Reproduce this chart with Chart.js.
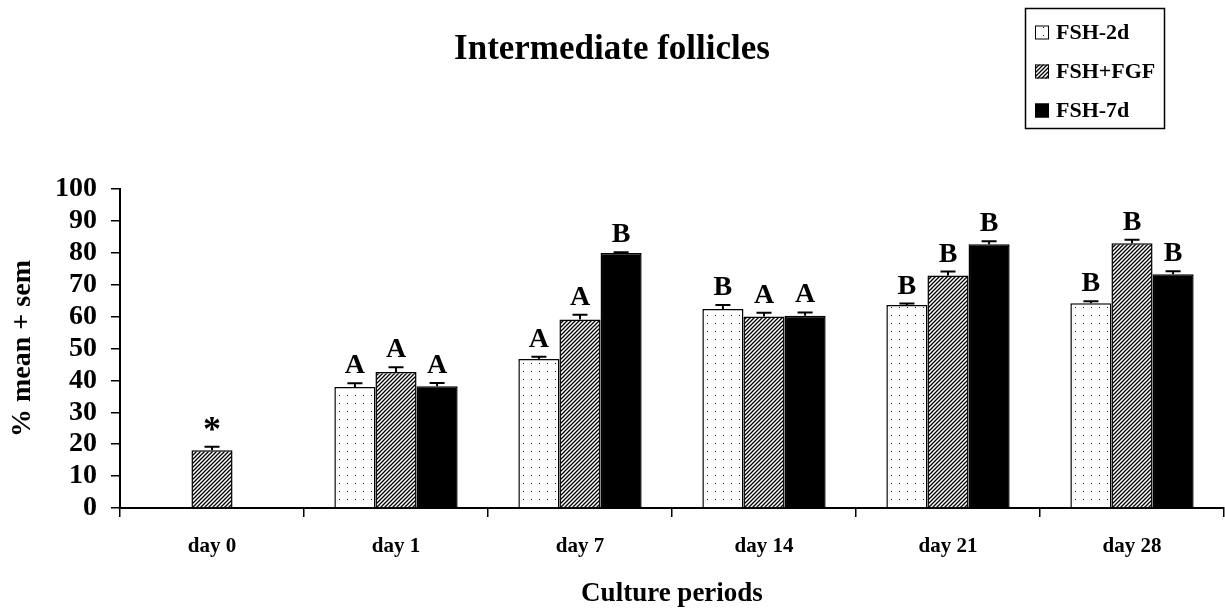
<!DOCTYPE html>
<html>
<head>
<meta charset="utf-8">
<script src="https://cdn.jsdelivr.net/npm/chart.js"></script>
<style>
  html, body { margin: 0; padding: 0; background: #fff; }
</style>
</head>
<body>
<canvas id="chart" width="1225" height="613"></canvas>
<script>
// values (% mean + sem)
const categories = ['day 0', 'day 1', 'day 7', 'day 14', 'day 21', 'day 28']
const seriesNames = ['FSH-2d', 'FSH+FGF', 'FSH-7d']
const fsh2d = [null, 37.9, 46.7, 62.4, 63.6, 64.2]
const fshFgf = [18.1, 42.6, 59.1, 60.0, 72.9, 83.0]
const fsh7d = [null, 38.2, 79.9, 60.3, 82.7, 73.3]
const fsh2dSem = [null, 1.2, 0.7, 1.2, 0.5, 0.6]
const fshFgfSem = [1.1, 1.5, 1.5, 1.2, 1.2, 1.1]
const fsh7dSem = [null, 1.0, 0.3, 1.0, 0.9, 0.9]
const fsh2dLetters = ['', 'A', 'A', 'B', 'B', 'B']
const fshFgfLetters = ['*', 'A', 'A', 'A', 'B', 'B']
const fsh7dLetters = ['', 'A', 'B', 'A', 'B', 'B']
const yTicks = [0, 10, 20, 30, 40, 50, 60, 70, 80, 90, 100]

const FONT = "'Liberation Serif', 'Times New Roman', serif"

function dotPattern() {
    const c = document.createElement('canvas')
    c.width = 8; c.height = 8
    const g = c.getContext('2d')
    g.fillStyle = '#fff'
    g.fillRect(0, 0, 8, 8)
    g.fillStyle = '#222'
    g.fillRect(3, 3, 1, 1)
    return g.createPattern(c, 'repeat')
}

function hatchPattern() {
    const c = document.createElement('canvas')
    c.width = 4; c.height = 4
    const g = c.getContext('2d')
    g.fillStyle = '#fff'
    g.fillRect(0, 0, 4, 4)
    g.strokeStyle = '#000'
    g.lineWidth = 1.3
    g.beginPath()
    g.moveTo(-1, 5); g.lineTo(5, -1)
    g.moveTo(-1, 1); g.lineTo(1, -1)
    g.moveTo(3, 5); g.lineTo(5, 3)
    g.stroke()
    return g.createPattern(c, 'repeat')
}

const fills = [dotPattern(), hatchPattern(), '#000']

// sem error bars + significance letters
const errorBars = {
    id: 'errorBars',
    afterDatasetsDraw(chart) {
        const ctx = chart.ctx
        const y = chart.scales.y
        ctx.save()
        chart.data.datasets.forEach((ds, di) => {
            const meta = chart.getDatasetMeta(di)
            meta.data.forEach((bar, i) => {
                const v = ds.data[i]
                if (v == null) return
                const top = y.getPixelForValue(v + ds.sem[i])
                ctx.strokeStyle = '#000'
                ctx.lineWidth = 2
                ctx.beginPath()
                ctx.moveTo(bar.x, bar.y)
                ctx.lineTo(bar.x, top)
                ctx.moveTo(bar.x - 7.5, top)
                ctx.lineTo(bar.x + 7.5, top)
                ctx.stroke()
                const letter = ds.letters[i]
                if (letter) {
                    ctx.fillStyle = '#000'
                    ctx.textAlign = 'center'
                    ctx.textBaseline = 'alphabetic'
                    if (letter === '*') {
                        ctx.font = 'bold 36px ' + FONT
                        ctx.fillText(letter, bar.x, top - 6)
                    } else {
                        ctx.font = 'bold 28px ' + FONT
                        ctx.fillText(letter, bar.x, top - 10)
                    }
                }
            })
        })
        ctx.restore()
    }
}

// boxed legend at the top right
const boxLegend = {
    id: 'boxLegend',
    afterDraw(chart) {
        const ctx = chart.ctx
        ctx.save()
        ctx.strokeStyle = '#000'
        ctx.lineWidth = 1.5
        ctx.strokeRect(1025.5, 8.5, 139, 120)
        chart.data.datasets.forEach((ds, i) => {
            const cy = 32 + i * 39
            ctx.fillStyle = ds.backgroundColor
            ctx.fillRect(1035, cy - 6.5, 14, 14)
            ctx.lineWidth = 1
            ctx.strokeRect(1035.5, cy - 6, 13, 13)
            ctx.fillStyle = '#000'
            ctx.font = 'bold 22px ' + FONT
            ctx.textAlign = 'left'
            ctx.textBaseline = 'middle'
            ctx.fillText(ds.label, 1056, cy + 1)
        })
        ctx.restore()
    }
}

const values = [fsh2d, fshFgf, fsh7d]
const sems = [fsh2dSem, fshFgfSem, fsh7dSem]
const letters = [fsh2dLetters, fshFgfLetters, fsh7dLetters]

const config = {
    type: 'bar',
    data: {
        labels: categories,
        datasets: seriesNames.map((name, i) => ({
            label: name,
            data: values[i],
            sem: sems[i],
            letters: letters[i],
            backgroundColor: fills[i],
            borderColor: '#000',
            borderWidth: 1.5,
            categoryPercentage: 0.67,
            barPercentage: 1
        }))
    },
    options: {
        responsive: false,
        animation: false,
        layout: { padding: { left: 0, right: 1, top: 0, bottom: 0 } },
        plugins: {
            legend: { display: false },
            tooltip: { enabled: false },
            title: {
                display: true,
                text: 'Intermediate follicles',
                color: '#000',
                font: { family: FONT, size: 35, weight: 'bold' },
                padding: { top: 29, bottom: 118 }
            }
        },
        scales: {
            x: {
                afterFit(scale) { scale.height = 105 },
                border: { display: true, color: '#000', width: 2 },
                grid: { drawOnChartArea: false, color: '#000', lineWidth: 1.5, tickLength: 9 },
                ticks: {
                    color: '#000',
                    padding: 17,
                    maxRotation: 0,
                    font: { family: FONT, size: 21, weight: 'bold' }
                },
                title: {
                    display: true,
                    text: 'Culture periods',
                    color: '#000',
                    font: { family: FONT, size: 27, weight: 'bold' },
                    padding: { top: 0, bottom: 3 }
                }
            },
            y: {
                min: yTicks[0],
                max: yTicks[yTicks.length - 1],
                afterFit(scale) { scale.width = 120 },
                border: { display: true, color: '#000', width: 2 },
                grid: { drawOnChartArea: false, color: '#000', lineWidth: 1.5, tickLength: 9 },
                ticks: {
                    stepSize: yTicks[1] - yTicks[0],
                    autoSkip: false,
                    color: '#000',
                    padding: 14,
                    font: { family: FONT, size: 28, weight: 'bold' }
                },
                title: {
                    display: true,
                    text: '% mean + sem',
                    color: '#000',
                    font: { family: FONT, size: 28, weight: 'bold' },
                    padding: { top: 6, bottom: 0 }
                }
            }
        }
    },
    plugins: [errorBars, boxLegend]
}

new Chart(document.getElementById('chart'), config)
</script>
</body>
</html>
